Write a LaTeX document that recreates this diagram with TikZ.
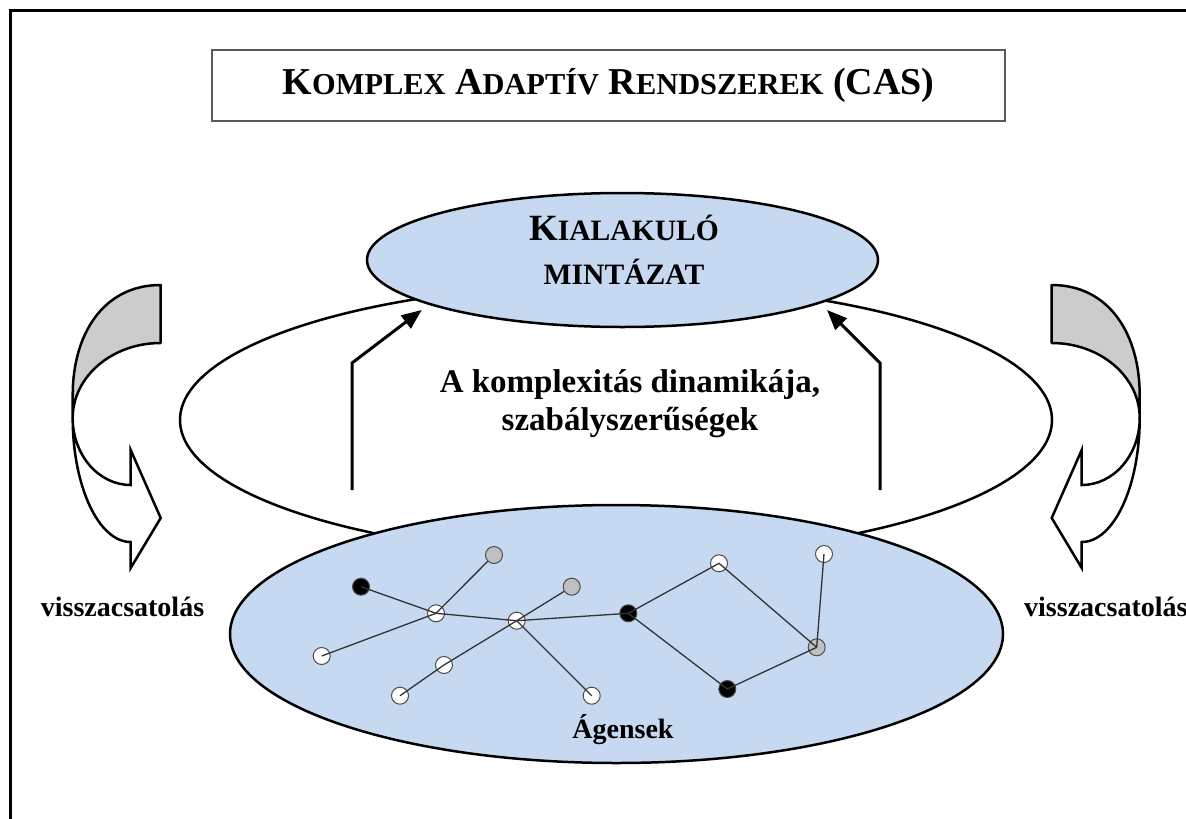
\documentclass[tikz,border=0pt]{standalone}
\usepackage{fontspec}
\setmainfont{Liberation Serif}
\usetikzlibrary{arrows.meta, shapes.geometric}

\definecolor{casblue}{RGB}{198,217,240}
\definecolor{backgray}{RGB}{204,204,204}
\definecolor{agentgray}{RGB}{191,191,191}

% big initial + small capitals
\newcommand{\fakesc}[4]{{\fontsize{#1}{#1}\selectfont #3}{\fontsize{#2}{#2}\selectfont #4}}

\begin{document}
\begin{tikzpicture}[
  x=1pt, y=-1pt,
  blob/.style    = {ellipse, draw, line width=2.5pt, fill=#1, inner sep=0pt},
  agent/.style   = {circle, draw=black!70, line width=1pt, fill=#1,
                    minimum size=17pt, inner sep=0pt},
  link/.style    = {line width=1.3pt, black!80},
  rise/.style    = {-{Triangle[length=20pt,width=16pt]}, line width=3pt},
  sidetext/.style = {font=\bfseries\fontsize{28}{32}\selectfont},
  fbloop/.pic    = {
    \draw[fill=backgray, line width=2.5pt, line join=round]
      (0,285) .. controls (-58,285) and (-88,335) .. (-88,395) -- (-88,418)
      .. controls (-88,376.6) and (-48.6,343) .. (0,343) -- cycle;
    \draw[fill=white, line width=2.5pt, line join=miter]
      (-88,418) .. controls (-88,486.5) and (-62,542) .. (-30,542)
      -- (-30,568) -- (0,518) -- (-30,450) -- (-30,485)
      .. controls (-62,485) and (-88,455) .. (-88,418) -- cycle;
  }
]
\useasboundingbox (0,0) rectangle (1186,819);

% frame
\draw[line width=3.5pt] (10.5,840) -- (10.5,10.5) -- (1200,10.5);

\node[draw=black!65, line width=1.5pt, minimum width=793pt, minimum height=71pt,
      font=\bfseries\fontsize{38}{40}\selectfont] (title) at (608.5,85.5)
  {\fakesc{38}{30.4}{K}{OMPLEX} \fakesc{38}{30.4}{A}{DAPTÍV}
   \fakesc{38}{30.4}{R}{ENDSZEREK} (CAS)};

% ellipses
\node[blob=none, fill=none, minimum width=872pt, minimum height=272pt] (dyn) at (616,420) {};
\node[blob=casblue, minimum width=773pt, minimum height=258pt] (agents) at (616.5,634) {};
\node[blob=casblue, minimum width=511pt, minimum height=134pt] (pattern) at (622.5,260) {};

\node[font=\bfseries\fontsize{37}{44}\selectfont, align=center] (patterntext) at (624,250)
  {K{\fontsize{29.6}{44}\selectfont IALAKULÓ}\\{\fontsize{29.6}{44}\selectfont MINTÁZAT}};
\node[font=\bfseries\fontsize{33}{38}\selectfont, align=center] (dyntext) at (630,404)
  {A komplexitás dinamikája,\\szabályszerűségek};
\node[sidetext] (agentstext) at (623,730) {Ágensek};

% emergence arrows
\coordinate (lfoot) at (352,490);
\coordinate (lbend) at (352,363);
\coordinate (ltip)  at (421.7,310);
\coordinate (rfoot) at (880,490);
\coordinate (rbend) at (880,363);
\coordinate (rtip)  at (827,310);
\draw[rise] (lfoot) -- (lbend) -- (ltip);
\draw[rise] (rfoot) -- (rbend) -- (rtip);

% feedback loops
\pic at (160.7,0) {fbloop};
\pic[xscale=-1] at (1051.7,0) {fbloop};
\node[sidetext] (fbleft) at (122.5,607) {visszacsatolás};
\node[sidetext, anchor=west, inner sep=0pt] (fbright) at (1024,607) {visszacsatolás};

% agents network
\node[agent=black]     (a1)  at (361,586.7) {};
\node[agent=white]     (a2)  at (436,613.3) {};
\node[agent=agentgray] (a3)  at (494,555) {};
\node[agent=white]     (a4)  at (321.7,656) {};
\node[agent=white]     (a5)  at (516.7,620.7) {};
\node[agent=agentgray] (a6)  at (571.7,586.7) {};
\node[agent=white]     (a7)  at (444,665) {};
\node[agent=white]     (a8)  at (400,695.7) {};
\node[agent=white]     (a9)  at (591.7,695.7) {};
\node[agent=black]     (a10) at (628.3,613.3) {};
\node[agent=white]     (a11) at (719,563.3) {};
\node[agent=white]     (a12) at (824,554) {};
\node[agent=agentgray] (a13) at (816.7,647.3) {};
\node[agent=black]     (a14) at (727.3,689) {};

\draw[link] (a1.center) -- (a2.center) -- (a5.center) -- (a10.center);
\draw[link] (a2.center) -- (a3);
\draw[link] (a2.center) -- (a4.center);
\draw[link] (a5.center) -- (a6);
\draw[link] (a5.center) -- (a7.center) -- (a8.center);
\draw[link] (a5.center) -- (a9.center);
\draw[link] (a10.center) -- (a11.center) -- (a13.center);
\draw[link] (a10.center) -- (a14.center) -- (a13.center);
\draw[link] (a12.center) -- (a13.center);

\end{tikzpicture}
\end{document}
